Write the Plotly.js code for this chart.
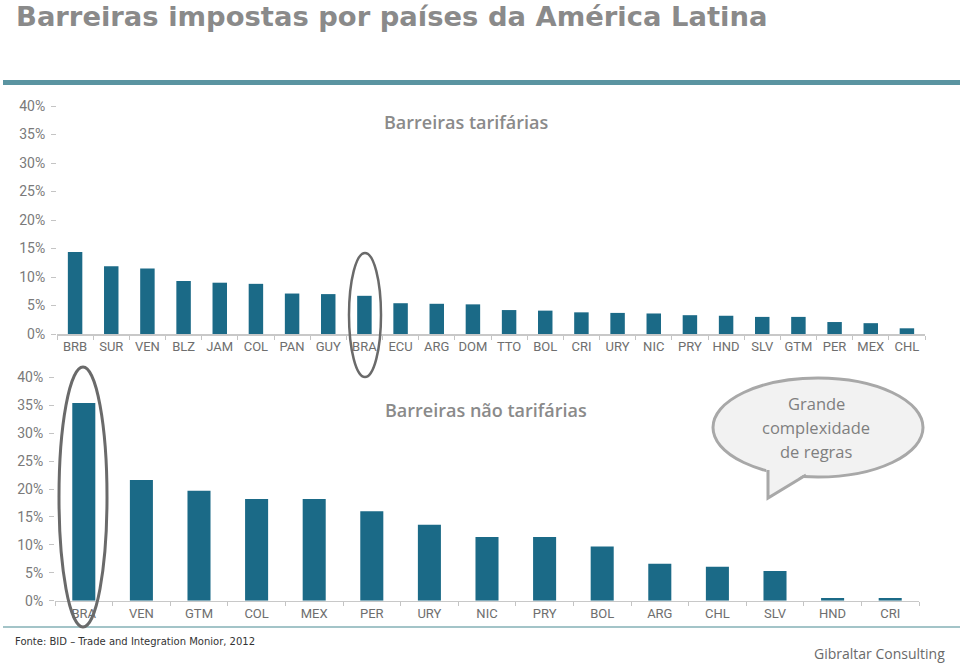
<!DOCTYPE html>
<html>
<head>
<meta charset="utf-8">
<script src="https://cdn.plot.ly/plotly-3.0.1.min.js"></script>
<style>
html,body{margin:0;padding:0;background:#fff;}
#chart{width:960px;height:664px;}
</style>
</head>
<body>
<div id="chart"></div>
<script>
// ---- data ----
const catsTarifarias = ["BRB","SUR","VEN","BLZ","JAM","COL","PAN","GUY","BRA","ECU","ARG","DOM","TTO","BOL","CRI","URY","NIC","PRY","HND","SLV","GTM","PER","MEX","CHL"];
const valsTarifarias = [14.4,11.9,11.5,9.3,9.0,8.8,7.1,7.0,6.7,5.4,5.3,5.2,4.2,4.1,3.8,3.7,3.6,3.3,3.2,3.0,3.0,2.1,1.9,1.0];
const catsNaoTarifarias = ["BRA","VEN","GTM","COL","MEX","PER","URY","NIC","PRY","BOL","ARG","CHL","SLV","HND","CRI"];
const valsNaoTarifarias = [35.4,21.6,19.7,18.2,18.2,16.0,13.6,11.4,11.4,9.7,6.6,6.1,5.3,0.5,0.5];
const yTickVals = [0,5,10,15,20,25,30,35,40];
const yTickText = ["0%","5%","10%","15%","20%","25%","30%","35%","40%"];
const mainTitle = "Barreiras impostas por países da América Latina";
const titleTop = "Barreiras tarifárias";
const titleBottom = "Barreiras não tarifárias";
const bubbleLines = ["Grande","complexidade","de regras"];
const sourceText = "Fonte: BID – Trade and Integration Monior, 2012";
const brandText = "Gibraltar Consulting";

// ---- layout helpers (pixel -> paper) ----
const W = 960, H = 664;
const px = x => x / W;
const py = y => 1 - y / H;

const barColor = "#1b6a87";
const tickFont = {family: "Roboto,'Liberation Sans Narrow',sans-serif", size: 13, color: "#6e6e6e"};
const yFont = {family: "Roboto,'Liberation Sans Narrow',sans-serif", size: 14, color: "#7a7a7a"};

const traces = [
  {type: "bar", x: catsTarifarias, y: valsTarifarias, xaxis: "x", yaxis: "y",
   marker: {color: barColor}, hoverinfo: "x+y"},
  {type: "bar", x: catsNaoTarifarias, y: valsNaoTarifarias, xaxis: "x2", yaxis: "y2",
   marker: {color: barColor}, hoverinfo: "x+y"}
];

function xAx(d0, d1, anchor) {
  return {domain: [px(d0), px(d1)], anchor: anchor, type: "category",
    tickson: "boundaries", ticks: "outside", ticklen: 4, tickcolor: "#c4c4c4", tickwidth: 1,
    showline: true, linecolor: "#c8c8c8", linewidth: 1.5, showgrid: false, zeroline: false,
    tickfont: tickFont, tickangle: 0, fixedrange: true};
}
function yAx(base, top, anchor) {
  return {domain: [py(base), py(top)], anchor: anchor, range: [0, 40],
    tickvals: yTickVals, ticktext: yTickText, ticks: "outside", ticklen: 5,
    tickcolor: "#c4c4c4", tickwidth: 1, showline: false, showgrid: false, zeroline: false,
    tickfont: yFont, fixedrange: true, ticklabelstandoff: 3};
}

const bubble = {cx: 818, cy: 427.5, rx: 105, ry: 49.5};

const shapes = [
  // top band
  {type: "rect", xref: "paper", yref: "paper", x0: px(3), x1: px(960), y0: py(85), y1: py(80),
   fillcolor: "#5a94a1", line: {width: 0}, layer: "below"},
  // bottom line
  {type: "line", xref: "paper", yref: "paper", x0: px(3), x1: px(960), y0: py(627), y1: py(627),
   line: {color: "#84b0b6", width: 1.5}},
  // highlight ellipses
  {type: "circle", xref: "paper", yref: "paper", x0: px(349), x1: px(381), y0: py(377), y1: py(253),
   line: {color: "#6a6a6a", width: 2.5}},
  {type: "circle", xref: "paper", yref: "paper", x0: px(59), x1: px(107), y0: py(627), y1: py(367),
   line: {color: "#6a6a6a", width: 3}},
  // speech bubble
  {type: "circle", xref: "paper", yref: "paper",
   x0: px(bubble.cx - bubble.rx), x1: px(bubble.cx + bubble.rx),
   y0: py(bubble.cy + bubble.ry), y1: py(bubble.cy - bubble.ry),
   fillcolor: "#f2f2f2", line: {color: "#a8a8a8", width: 3}},
  {type: "path", xref: "paper", yref: "paper",
   path: `M ${px(766)} ${py(465)} L ${px(768)} ${py(498)} L ${px(809)} ${py(471)} Z`,
   fillcolor: "#f2f2f2", line: {width: 0}},
  {type: "path", xref: "paper", yref: "paper",
   path: `M ${px(768)} ${py(470)} L ${px(768)} ${py(498)} L ${px(806)} ${py(475)}`,
   line: {color: "#a8a8a8", width: 3}}
];

const ann = (text, x, y, font, xanchor) => ({text: text, xref: "paper", yref: "paper",
  x: px(x), y: py(y), xanchor: xanchor || "center", yanchor: "middle", showarrow: false, font: font});

const annotations = [
  ann(mainTitle, 14, 17, {family: "'DejaVu Sans',Verdana,sans-serif", size: 27.4, color: "#8a8a8a", weight: 700}, "left"),
  ann(titleTop, 466, 122, {family: "'Open Sans',sans-serif", size: 18, color: "#8a8a8a", weight: 600}),
  ann(titleBottom, 486, 410, {family: "'Open Sans',sans-serif", size: 18, color: "#8a8a8a", weight: 600}),
  ann(bubbleLines[0], 816, 403, {family: "'Open Sans',sans-serif", size: 16.5, color: "#7f7f7f"}),
  ann(bubbleLines[1], 816, 427, {family: "'Open Sans',sans-serif", size: 16.5, color: "#7f7f7f"}),
  ann(bubbleLines[2], 816, 451, {family: "'Open Sans',sans-serif", size: 16.5, color: "#7f7f7f"}),
  ann(sourceText, 13, 641, {family: "'DejaVu Sans',Verdana,sans-serif", size: 10, color: "#333333"}, "left"),
  ann(brandText, 947, 653, {family: "'Open Sans',sans-serif", size: 14, color: "#6a6a6a"}, "right")
];

const layout = {
  width: W, height: H,
  margin: {l: 0, r: 0, t: 0, b: 0, pad: 0},
  paper_bgcolor: "#ffffff", plot_bgcolor: "rgba(0,0,0,0)",
  showlegend: false, bargap: 0.6,
  xaxis: xAx(57, 925, "y"),
  yaxis: yAx(334, 106, "x"),
  xaxis2: xAx(55, 919, "y2"),
  yaxis2: yAx(600.7, 377.3, "x2"),
  shapes: shapes,
  annotations: annotations
};

Plotly.newPlot("chart", traces, layout, {displayModeBar: false, staticPlot: true});
</script>
</body>
</html>
